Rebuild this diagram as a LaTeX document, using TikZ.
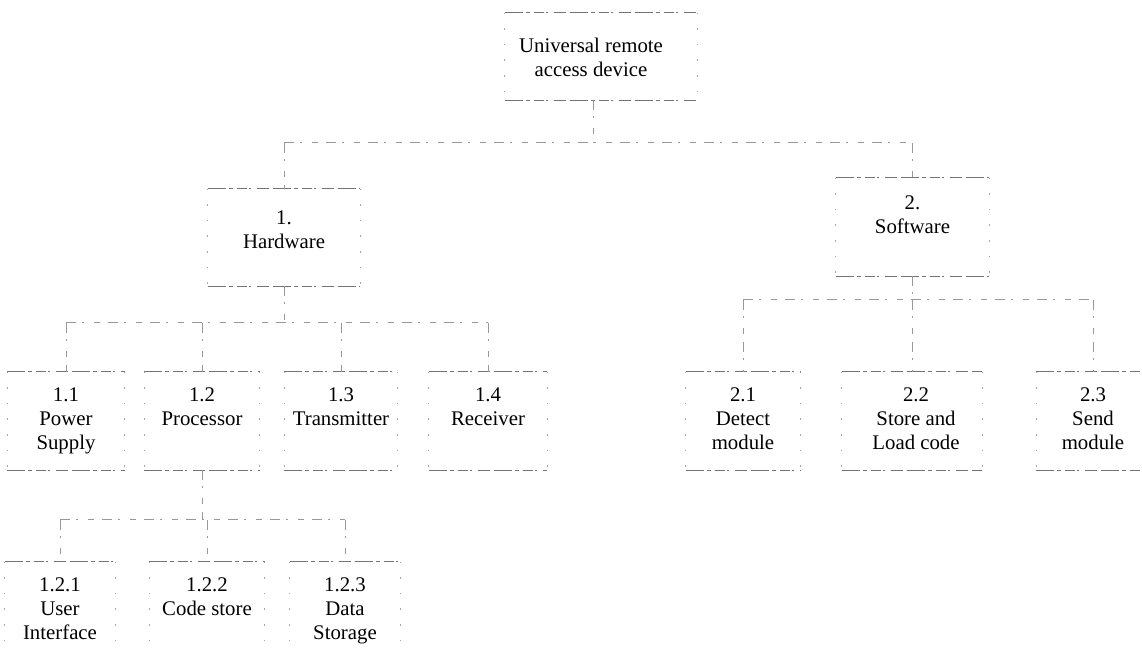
\documentclass[tikz,border=0pt]{standalone}
\usepackage{fontspec}
\setmainfont{Liberation Serif}
\newcommand\sketchbox[1]{%
  \draw[hl] (#1.north west) -- (#1.north east) (#1.south west) -- (#1.south east);
  \draw[vl] (#1.north west) -- (#1.south west) (#1.north east) -- (#1.south east);}
\begin{document}
\begin{tikzpicture}[x=0.5pt,y=-0.5pt,
  bx/.style={draw=none,inner sep=0pt,minimum height=49pt},
  lbl/.style={anchor=north,align=center,inner sep=0pt,font=\fontsize{10.4pt}{12pt}\selectfont},
  hl/.style={draw=black!55,line width=0.5pt,dash pattern=on 9pt off 1.5pt on 2pt off 2pt on 5pt off 1pt on 1pt off 3pt on 6pt off 2pt},
  vl/.style={draw=black!35,line width=0.5pt,dash pattern=on 0.8pt off 7pt},
  cn/.style={draw=black!40,line width=0.5pt,dash pattern=on 5pt off 3pt on 1pt off 5pt on 3pt off 4pt}]
\clip (0,0) rectangle (1142,651);
\fill[white] (0,0) rectangle (1142,651);
% boxes
\node[bx,minimum width=96pt,minimum height=43.5pt] (root) at (601,56.5) {};
\node[bx,minimum width=76pt,minimum height=48.5pt] (hw) at (284,237.5) {};
\node[bx,minimum width=76.5pt] (sw) at (912.5,227) {};
\node[bx,minimum width=58.5pt] (p11) at (66,421) {};
\node[bx,minimum width=57.5pt] (p12) at (202,421) {};
\node[bx,minimum width=56.5pt] (p13) at (341,421) {};
\node[bx,minimum width=59pt] (p14) at (488,421) {};
\node[bx,minimum width=57pt] (s21) at (743,421) {};
\node[bx,minimum width=70pt] (s22) at (912,421) {};
\node[bx,minimum width=56.5pt] (s23) at (1093,421) {};
\node[bx,minimum width=55pt] (q1) at (60,611) {};
\node[bx,minimum width=57.5pt] (q2) at (207,611) {};
\node[bx,minimum width=55pt] (q3) at (345,611) {};
\foreach \n in {root,hw,sw,p11,p12,p13,p14,s21,s22,s23,q1,q2,q3}{\sketchbox{\n}}
% labels
\node[lbl] (troot) at ([xshift=-5pt,yshift=-12.5pt]root.north) {Universal remote\\access device};
\node[lbl] (thw) at ([yshift=-11pt]hw.north) {1.\\Hardware};
\node[lbl] (tsw) at ([yshift=-9pt]sw.north) {2.\\Software};
\node[lbl] (t11) at ([yshift=-8pt]p11.north) {1.1\\Power\\Supply};
\node[lbl] (t12) at ([yshift=-8pt]p12.north) {1.2\\Processor};
\node[lbl] (t13) at ([yshift=-8pt]p13.north) {1.3\\Transmitter};
\node[lbl] (t14) at ([yshift=-8pt]p14.north) {1.4\\Receiver};
\node[lbl] (t21) at ([yshift=-8pt]s21.north) {2.1\\Detect\\module};
\node[lbl] (t22) at ([xshift=2pt,yshift=-8pt]s22.north) {2.2\\Store and\\Load code};
\node[lbl] (t23) at ([yshift=-8pt]s23.north) {2.3\\Send\\module};
\node[lbl] (t121) at ([yshift=-8pt]q1.north) {1.2.1\\User\\Interface};
\node[lbl] (t122) at ([yshift=-8pt]q2.north) {1.2.2\\Code store};
\node[lbl] (t123) at ([yshift=-8pt]q3.north) {1.2.3\\Data\\Storage};
% connectors
\coordinate (b0) at (593,143);
\coordinate (b1) at (284,323);
\coordinate (b2) at (912,300);
\coordinate (b3) at (202,520);
\draw[cn] (root.south -| b0) -- (b0);
\draw[cn] (hw.north |- b0) -- (sw.north |- b0);
\draw[cn] (hw.north |- b0) -- (hw.north);
\draw[cn] (sw.north |- b0) -- (sw.north);
\draw[cn] (hw.south) -- (hw.south |- b1);
\draw[cn] (p11.north |- b1) -- (p14.north |- b1);
\foreach \n in {p11,p12,p13,p14}{\draw[cn] (\n.north |- b1) -- (\n.north);}
\draw[cn] (sw.south) -- (sw.south |- b2);
\draw[cn] (s21.north |- b2) -- (s23.north |- b2);
\foreach \n in {s21,s22,s23}{\draw[cn] (\n.north |- b2) -- (\n.north);}
\draw[cn] (p12.south) -- (p12.south |- b3);
\draw[cn] (q1.north |- b3) -- (q3.north |- b3);
\foreach \n in {q1,q2,q3}{\draw[cn] (\n.north |- b3) -- (\n.north);}
\end{tikzpicture}
\end{document}
